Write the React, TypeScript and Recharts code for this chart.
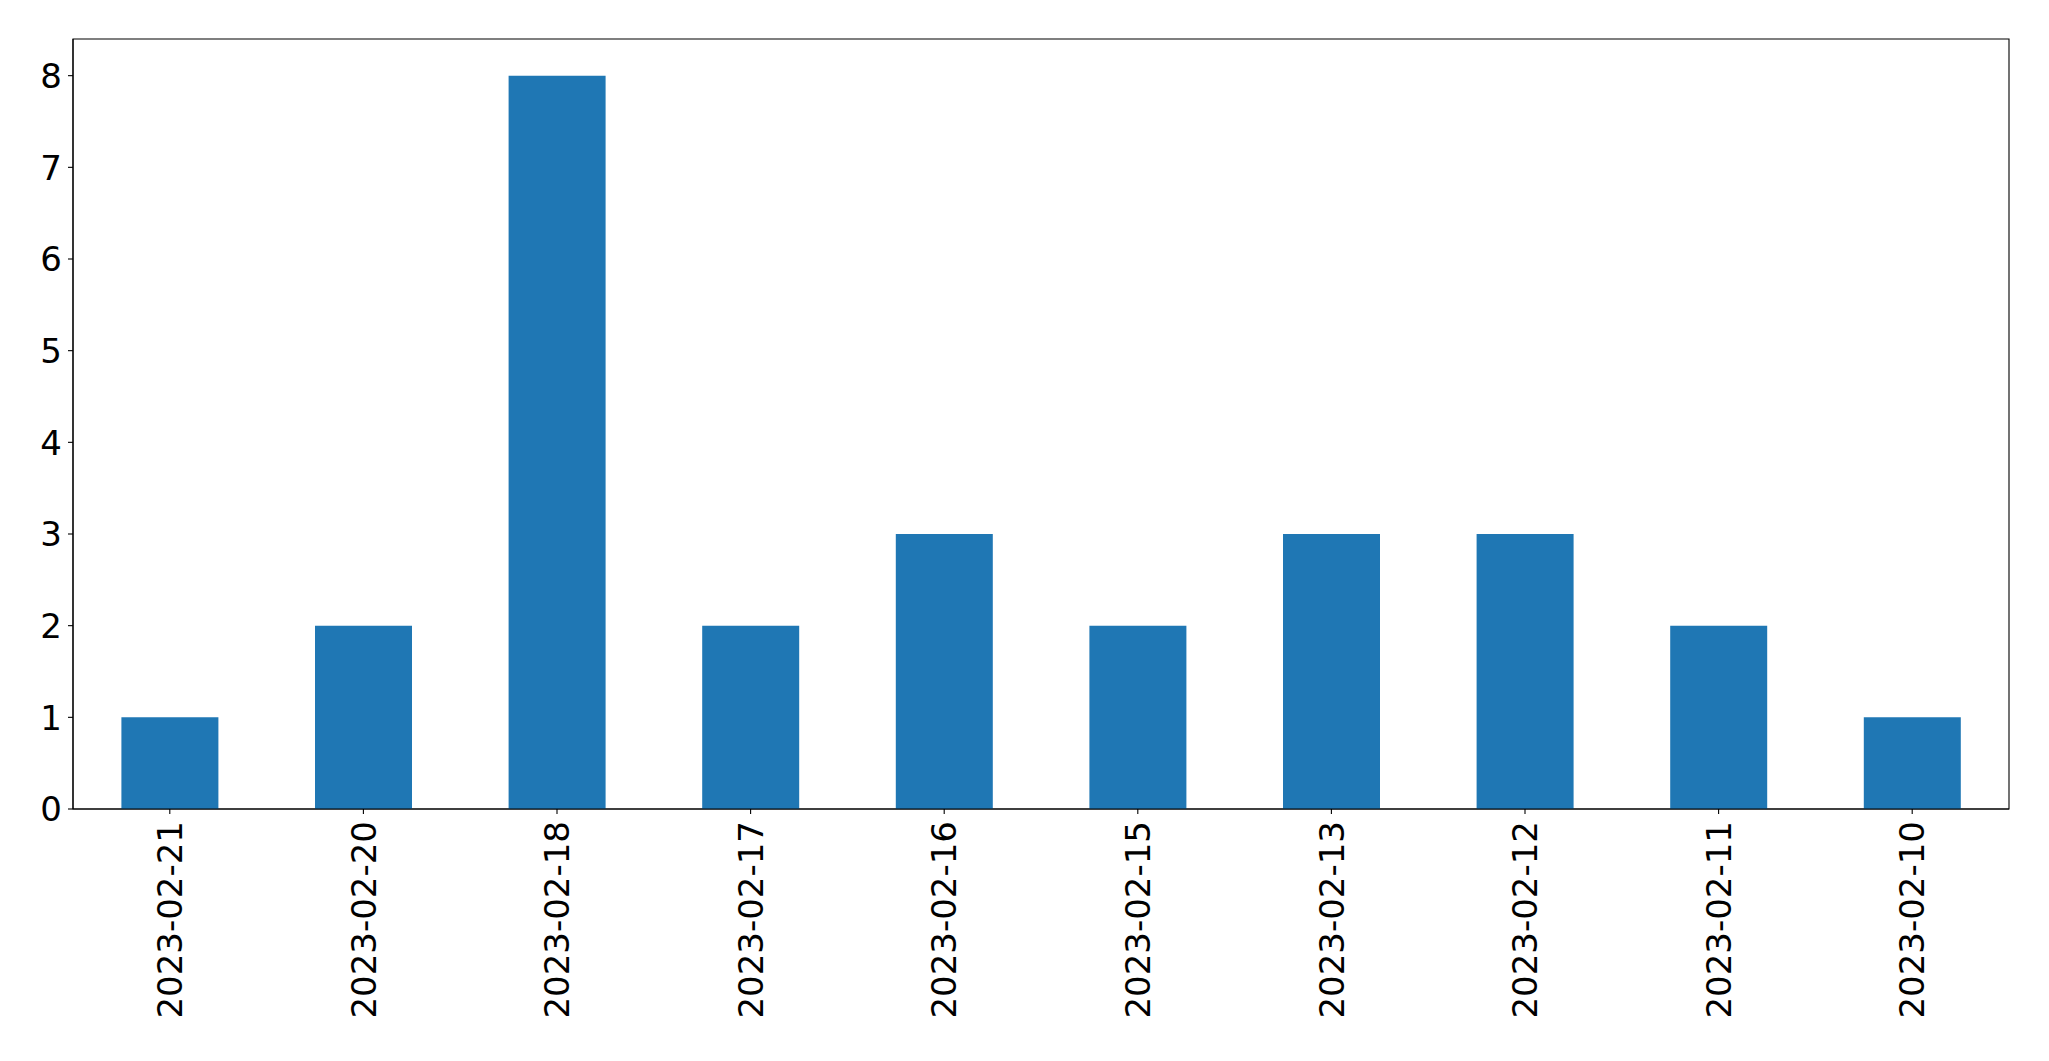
import React from 'react'
import { BarChart, Bar, XAxis, YAxis, ReferenceArea } from 'recharts'

const dates = [
  '2023-02-21',
  '2023-02-20',
  '2023-02-18',
  '2023-02-17',
  '2023-02-16',
  '2023-02-15',
  '2023-02-13',
  '2023-02-12',
  '2023-02-11',
  '2023-02-10',
]
const counts = [1, 2, 8, 2, 3, 2, 3, 3, 2, 1]
const yTicks = [0, 1, 2, 3, 4, 5, 6, 7, 8]

const FONT = "'DejaVu Sans', sans-serif"
const FONT_SIZE = 34

const data = dates.map((date, i) => ({ date, count: counts[i] }))

const XTick = ({ x, y, payload }: any) => (
  <text
    transform={`translate(${x}, ${y}) rotate(-90)`}
    textAnchor="end"
    dy="0.36em"
    fontFamily={FONT}
    fontSize={FONT_SIZE}
    fill="#000"
  >
    {payload.value}
  </text>
)

const YTick = ({ x, y, payload }: any) => (
  <text
    x={x}
    y={y}
    textAnchor="end"
    dy="0.36em"
    fontFamily={FONT}
    fontSize={FONT_SIZE}
    fill="#000"
  >
    {payload.value}
  </text>
)

export default function App() {
  return (
    <div style={{ position: 'absolute', left: 0, top: 0, background: '#fff' }}>
      <BarChart
        width={2049}
        height={1061}
        data={data}
        margin={{ top: 39, right: 40, bottom: 0, left: 0 }}
        barCategoryGap="25%"
      >
        <XAxis
          dataKey="date"
          height={252}
          interval={0}
          tickSize={5}
          tickMargin={7}
          tick={<XTick />}
          axisLine={{ stroke: '#000', strokeWidth: 1.1 }}
          tickLine={{ stroke: '#000', strokeWidth: 1.1 }}
        />
        <YAxis
          width={73}
          domain={[0, 8.4]}
          ticks={yTicks}
          interval={0}
          tickSize={5}
          tickMargin={6}
          tick={<YTick />}
          axisLine={{ stroke: '#000', strokeWidth: 1.1 }}
          tickLine={{ stroke: '#000', strokeWidth: 1.1 }}
        />
        <Bar dataKey="count" fill="#1f77b4" isAnimationActive={false} />
        {/* frame around the plot area */}
        <ReferenceArea
          y1={0}
          y2={8.4}
          fill="none"
          fillOpacity={0}
          stroke="#000"
          strokeWidth={1.1}
          ifOverflow="visible"
        />
      </BarChart>
    </div>
  )
}
